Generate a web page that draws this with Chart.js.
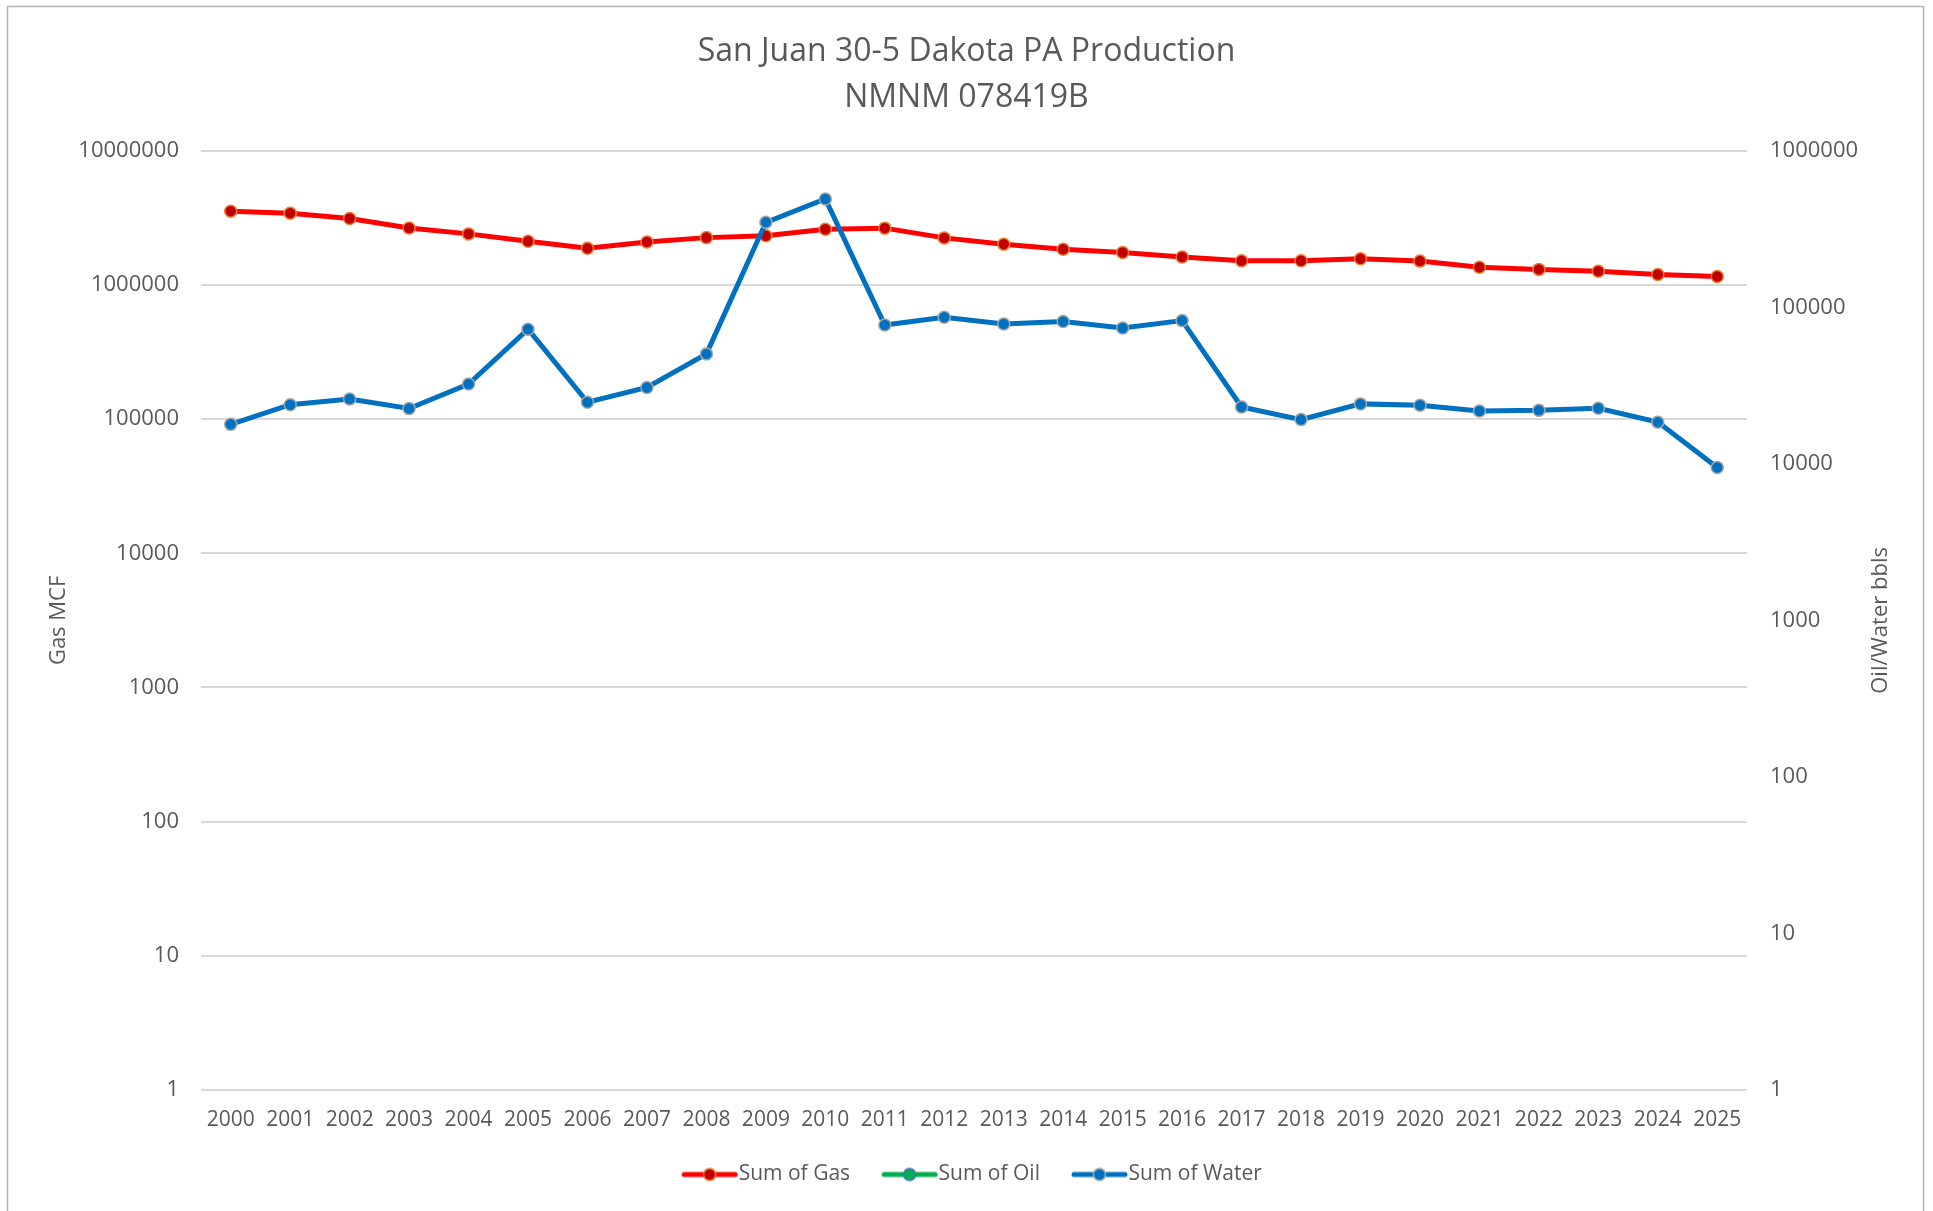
<!DOCTYPE html>
<html>
<head>
<meta charset="utf-8">
<title>San Juan 30-5 Dakota PA Production</title>
<script src="https://cdn.jsdelivr.net/npm/chart.js@4.4.1/dist/chart.umd.min.js"></script>
<style>
    html, body { margin: 0; padding: 0; background: #fff; }
    #wrap { width: 1933px; height: 1211px; }
</style>
</head>
<body>
<div id="wrap"><canvas id="production" width="1933" height="1211"></canvas></div>
<script>
// Data (yearly sums)
var years = ['2000', '2001', '2002', '2003', '2004', '2005', '2006', '2007', '2008', '2009',
    '2010', '2011', '2012', '2013', '2014', '2015', '2016', '2017', '2018', '2019',
    '2020', '2021', '2022', '2023', '2024', '2025'];

var gasMcf = [3560000, 3440000, 3140000, 2670000, 2410000, 2120000, 1880000, 2100000, 2260000, 2330000,
    2610000, 2660000, 2250000, 2020000, 1850000, 1750000, 1620000, 1520000, 1520000, 1570000,
    1510000, 1360000, 1310000, 1270000, 1200000, 1160000];

// oil never shows on the log axis
var oilBbls = [null, null, null, null, null, null, null, null, null, null,
    null, null, null, null, null, null, null, null, null, null,
    null, null, null, null, null, null];

var waterBbls = [17900, 23900, 26000, 22600, 32400, 72600, 24800, 30800, 50500, 350000,
    494000, 77300, 86500, 78500, 81300, 74000, 82400, 23100, 19200, 24200,
    23700, 21800, 22000, 22700, 18500, 9500];

var gasTicks = [1, 10, 100, 1000, 10000, 100000, 1000000, 10000000];
var bblTicks = [1, 10, 100, 1000, 10000, 100000, 1000000];

var textGray = '#595959';
var fontName = "'Open Sans', 'Noto Sans', sans-serif";

/**
 * Small line + marker picture used as legend symbol (like Excel does)
 */
function makeLegendIcon(lineColor, fill, stroke) {
    var c = document.createElement('canvas');
    c.width = 77;
    c.height = 18;
    var ctx = c.getContext('2d');
    ctx.strokeStyle = lineColor;
    ctx.lineWidth = 5;
    ctx.lineCap = 'round';
    ctx.beginPath();
    ctx.moveTo(23, 9);
    ctx.lineTo(74, 9);
    ctx.stroke();
    ctx.beginPath();
    ctx.arc(48.5, 9, 6, 0, Math.PI * 2);
    ctx.fillStyle = fill;
    ctx.fill();
    ctx.lineWidth = 1.5;
    ctx.strokeStyle = stroke;
    ctx.stroke();
    return c;
}

var legendIcons = [
    makeLegendIcon('#FF0000', '#C00000', '#ED7D31'),
    makeLegendIcon('#00B050', '#00B050', '#4472C4'),
    makeLegendIcon('#0070C0', '#0070C0', '#A5A5A5')
];

function powersOnly(list) {
    return function (scale) {
        scale.ticks = list.map(function (v) { return {value: v}; });
    };
}

// white background, outer frame and the right axis title (reads bottom to top)
var framePlugin = {
    id: 'frame',
    beforeDraw: function (chart) {
        var ctx = chart.ctx;
        ctx.save();
        ctx.fillStyle = '#ffffff';
        ctx.fillRect(0, 0, chart.width, chart.height);
        ctx.strokeStyle = '#b4b4b4';
        ctx.lineWidth = 1.5;
        ctx.strokeRect(7.5, 6.5, 1916, 1212);
        ctx.restore();
    },
    afterDraw: function (chart) {
        var ctx = chart.ctx;
        var area = chart.chartArea;
        var y1 = chart.scales.y1;
        ctx.save();
        ctx.translate(y1.right - 44, (area.top + area.bottom) / 2);
        ctx.rotate(-Math.PI / 2);
        ctx.font = '22px ' + fontName;
        ctx.fillStyle = textGray;
        ctx.textAlign = 'center';
        ctx.textBaseline = 'middle';
        ctx.fillText('Oil/Water bbls', 0, 0);
        ctx.restore();
    }
};

var ctx = document.getElementById('production').getContext('2d');

var chart = new Chart(ctx, {
    type: 'line',
    data: {
        labels: years,
        datasets: [
            {
                label: 'Sum of Gas',
                data: gasMcf,
                yAxisID: 'y',
                order: 2,
                borderColor: '#FF0000',
                borderWidth: 5,
                pointRadius: 6,
                pointBorderWidth: 1.5,
                pointBackgroundColor: '#C00000',
                pointBorderColor: '#ED7D31'
            },
            {
                label: 'Sum of Oil',
                data: oilBbls,
                yAxisID: 'y1',
                order: 1,
                borderColor: '#00B050',
                borderWidth: 5,
                pointRadius: 6,
                pointBorderWidth: 1.5,
                pointBackgroundColor: '#00B050',
                pointBorderColor: '#4472C4'
            },
            {
                label: 'Sum of Water',
                data: waterBbls,
                yAxisID: 'y1',
                order: 0,
                borderColor: '#0070C0',
                borderWidth: 5,
                pointRadius: 6,
                pointBorderWidth: 1.5,
                pointBackgroundColor: '#0070C0',
                pointBorderColor: '#A5A5A5'
            }
        ]
    },
    options: {
        responsive: false,
        animation: false,
        layout: {
            padding: {left: 8, right: 8, top: 0, bottom: 16}
        },
        plugins: {
            title: {
                display: true,
                text: ['San Juan 30-5 Dakota PA Production', 'NMNM 078419B'],
                color: textGray,
                font: {family: fontName, size: 32, weight: 'normal', lineHeight: 1.4375},
                padding: {top: 29, bottom: 30}
            },
            legend: {
                position: 'bottom',
                labels: {
                    usePointStyle: true,
                    pointStyleWidth: 57,
                    padding: 21,
                    color: textGray,
                    font: {family: fontName, size: 21},
                    sort: function (a, b) { return a.datasetIndex - b.datasetIndex; },
                    generateLabels: function (chart) {
                        var items = Chart.defaults.plugins.legend.labels.generateLabels(chart);
                        items.forEach(function (item) {
                            item.pointStyle = legendIcons[item.datasetIndex];
                        });
                        return items;
                    }
                }
            },
            tooltip: {enabled: false}
        },
        scales: {
            x: {
                type: 'category',
                offset: true,
                grid: {display: false, drawTicks: false},
                border: {display: false},
                ticks: {
                    color: textGray,
                    font: {family: fontName, size: 21},
                    padding: 18,
                    maxRotation: 0,
                    autoSkip: false
                },
                afterFit: function (scale) { scale.height = scale.height - 8; }
            },
            y: {
                type: 'logarithmic',
                position: 'left',
                min: 1,
                max: 10000000,
                afterBuildTicks: powersOnly(gasTicks),
                afterFit: function (scale) { scale.width = 193; },
                grid: {color: '#d9d9d9', lineWidth: 2, drawTicks: false},
                border: {display: false},
                ticks: {
                    color: textGray,
                    font: {family: fontName, size: 22},
                    padding: 22,
                    callback: function (value) { return String(value); }
                },
                title: {
                    display: true,
                    text: 'Gas MCF',
                    color: textGray,
                    font: {family: fontName, size: 22},
                    padding: {top: 38, bottom: 0}
                }
            },
            y1: {
                type: 'logarithmic',
                position: 'right',
                min: 1,
                max: 1000000,
                afterBuildTicks: powersOnly(bblTicks),
                afterFit: function (scale) { scale.width = 178; },
                grid: {display: false, drawTicks: false},
                border: {display: false},
                ticks: {
                    color: textGray,
                    font: {family: fontName, size: 22},
                    padding: 23,
                    callback: function (value) { return String(value); }
                }
            }
        }
    },
    plugins: [framePlugin]
});
</script>
</body>
</html>
